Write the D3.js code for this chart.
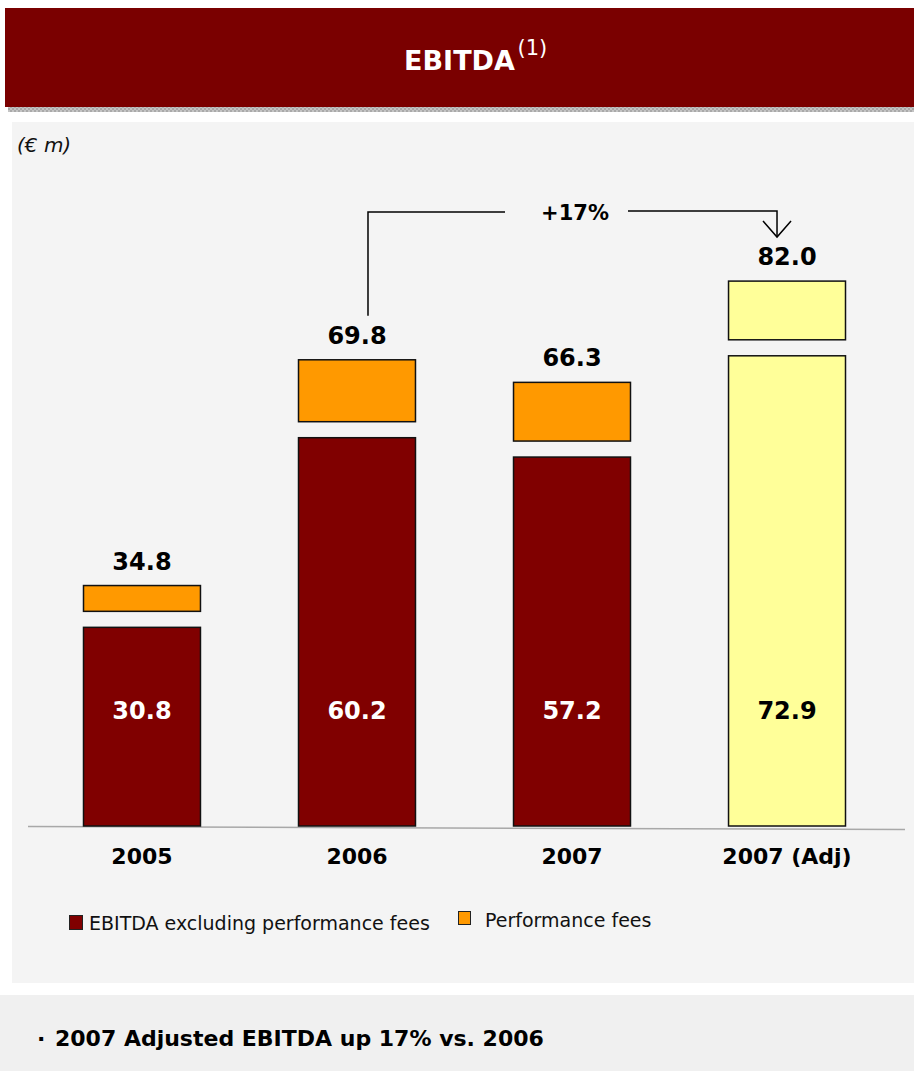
<!DOCTYPE html>
<html>
<head>
<meta charset="utf-8">
<script src="https://cdn.jsdelivr.net/npm/d3@7"></script>
<style>
  html, body { margin: 0; padding: 0; background: #ffffff; }
  svg { display: block; }
  text { font-family: "DejaVu Sans", Verdana, sans-serif; }
</style>
</head>
<body>
<svg id="chart" width="914" height="1071"></svg>
<script>
// EBITDA by year, € m
const categories = ["2005", "2006", "2007", "2007 (Adj)"];
const ebitdaExFees = [30.8, 60.2, 57.2, 72.9];
const ebitdaTotal = [34.8, 69.8, 66.3, 82.0];
const growthLabel = "+17%";
const legendLabels = ["EBITDA excluding performance fees", "Performance fees"];

const COLORS = {
  header: "#7a0000",
  base: "#800000",
  fees: "#ff9900",
  adjusted: "#ffff99",
  panel: "#f4f4f4",
  note: "#f0f0f0"
};

const svg = d3.select("#chart");

// header band
svg.append("rect").attr("x", 5).attr("y", 8).attr("width", 909).attr("height", 99)
  .attr("fill", COLORS.header);
const defs = svg.append("defs");
const pat = defs.append("pattern").attr("id", "hatch").attr("patternUnits", "userSpaceOnUse")
  .attr("width", 4).attr("height", 4);
pat.append("rect").attr("width", 4).attr("height", 4).attr("fill", "#c4c4c4");
pat.append("rect").attr("width", 2).attr("height", 2).attr("fill", "#a9a9a9");
pat.append("rect").attr("x", 2).attr("y", 2).attr("width", 2).attr("height", 2).attr("fill", "#a9a9a9");
svg.append("rect").attr("x", 8).attr("y", 107).attr("width", 906).attr("height", 5)
  .attr("fill", "url(#hatch)");

svg.append("text").attr("x", 459.5).attr("y", 70)
  .attr("text-anchor", "middle").attr("fill", "#fff")
  .attr("font-weight", "bold").attr("font-size", 27).text("EBITDA");
svg.append("text").attr("x", 459.5 + 58).attr("y", 55)
  .attr("fill", "#fff").attr("font-size", 21).text("(1)");

// chart panel
svg.append("rect").attr("x", 12).attr("y", 122).attr("width", 902).attr("height", 861)
  .attr("fill", COLORS.panel);
svg.append("text").attr("x", 17).attr("y", 152).attr("font-style", "italic")
  .attr("font-size", 20).attr("fill", "#111").text("(€ m)");

// scales
const x = d3.scaleBand().domain(categories).range([83.5, 845.5]).paddingInner(0.456).paddingOuter(0);
const y = d3.scaleLinear().domain([0, 100]).range([826, 181]);
const bw = x.bandwidth();
const gap = 16;

// baseline
svg.append("line").attr("x1", 28).attr("x2", 905).attr("y1", y(0) + 0.5).attr("y2", y(0) + 3.5)
  .attr("stroke", "#a8a8a8").attr("stroke-width", 1.5);

const rows = categories.map((c, i) => ({
  cat: c, base: ebitdaExFees[i], total: ebitdaTotal[i], adj: c.includes("Adj")
}));

const g = svg.append("g");
// base bars
g.selectAll("rect.base").data(rows).join("rect").attr("class", "base")
  .attr("x", d => x(d.cat)).attr("width", bw)
  .attr("y", d => y(d.base)).attr("height", d => y(0) - y(d.base))
  .attr("fill", d => d.adj ? COLORS.adjusted : COLORS.base)
  .attr("stroke", "#111").attr("stroke-width", 1.5);

// performance-fee segments, set apart from the base bar
g.selectAll("rect.fee").data(rows).join("rect").attr("class", "fee")
  .attr("x", d => x(d.cat)).attr("width", bw)
  .attr("y", d => y(d.total) - gap).attr("height", d => y(d.base) - y(d.total))
  .attr("fill", d => d.adj ? COLORS.adjusted : COLORS.fees)
  .attr("stroke", "#111").attr("stroke-width", 1.5);

// value labels
g.selectAll("text.base").data(rows).join("text").attr("class", "base")
  .attr("x", d => x(d.cat) + bw / 2).attr("y", y(0) - 107)
  .attr("text-anchor", "middle").attr("font-weight", "bold").attr("font-size", 24)
  .attr("fill", d => d.adj ? "#000" : "#fff")
  .text(d => d.base.toFixed(1));

const totalBaseline = d => y(d.total) - gap - 16;
g.selectAll("text.total").data(rows).join("text").attr("class", "total")
  .attr("x", d => x(d.cat) + bw / 2).attr("y", totalBaseline)
  .attr("text-anchor", "middle").attr("font-weight", "bold").attr("font-size", 24)
  .attr("fill", "#000")
  .text(d => d.total.toFixed(1));

// category labels
g.selectAll("text.cat").data(rows).join("text").attr("class", "cat")
  .attr("x", d => x(d.cat) + bw / 2).attr("y", 864)
  .attr("text-anchor", "middle").attr("font-weight", "bold").attr("font-size", 22)
  .attr("fill", "#000").text(d => d.cat);

// growth bracket 2006 -> 2007 (Adj)
const from = rows[1], to = rows[3];
const xl = x(from.cat) + bw / 2 + 11;
const xr = x(to.cat) + bw / 2 - 10;
const yb = 211;
const ann = svg.append("g").attr("stroke", "#000").attr("stroke-width", 1.5).attr("fill", "none");
ann.append("path").attr("d", `M${xl},${totalBaseline(from) - 28}V${yb + 1}H505`);
const tip = totalBaseline(to) - 28;
ann.append("path").attr("d", `M628,${yb}H${xr}V${tip}`);
ann.append("path").attr("d", `M${xr - 14},${tip - 16}L${xr},${tip}L${xr + 14},${tip - 16}`);
svg.append("text").attr("x", 575).attr("y", 220).attr("text-anchor", "middle")
  .attr("font-weight", "bold").attr("font-size", 21).attr("fill", "#000").text(growthLabel);

// legend
const legend = svg.append("g");
legend.append("rect").attr("x", 69.5).attr("y", 915.5).attr("width", 13).attr("height", 14)
  .attr("fill", COLORS.base).attr("stroke", "#222").attr("stroke-width", 1);
legend.append("text").attr("x", 89).attr("y", 930).attr("font-size", 19).attr("fill", "#111")
  .text(legendLabels[0]);
legend.append("rect").attr("x", 458.5).attr("y", 911.5).attr("width", 12).attr("height", 13)
  .attr("fill", COLORS.fees).attr("stroke", "#222").attr("stroke-width", 1);
legend.append("text").attr("x", 485).attr("y", 927).attr("font-size", 19).attr("fill", "#111")
  .text(legendLabels[1]);

// takeaway note
svg.append("rect").attr("x", 0).attr("y", 995).attr("width", 914).attr("height", 76)
  .attr("fill", COLORS.note);
svg.append("text").attr("x", 37).attr("y", 1046).attr("font-size", 22).attr("font-weight", "bold")
  .attr("fill", "#000").text("·");
svg.append("text").attr("x", 55).attr("y", 1046).attr("font-size", 22).attr("font-weight", "bold")
  .attr("fill", "#000").text("2007 Adjusted EBITDA up 17% vs. 2006");
</script>
</body>
</html>
